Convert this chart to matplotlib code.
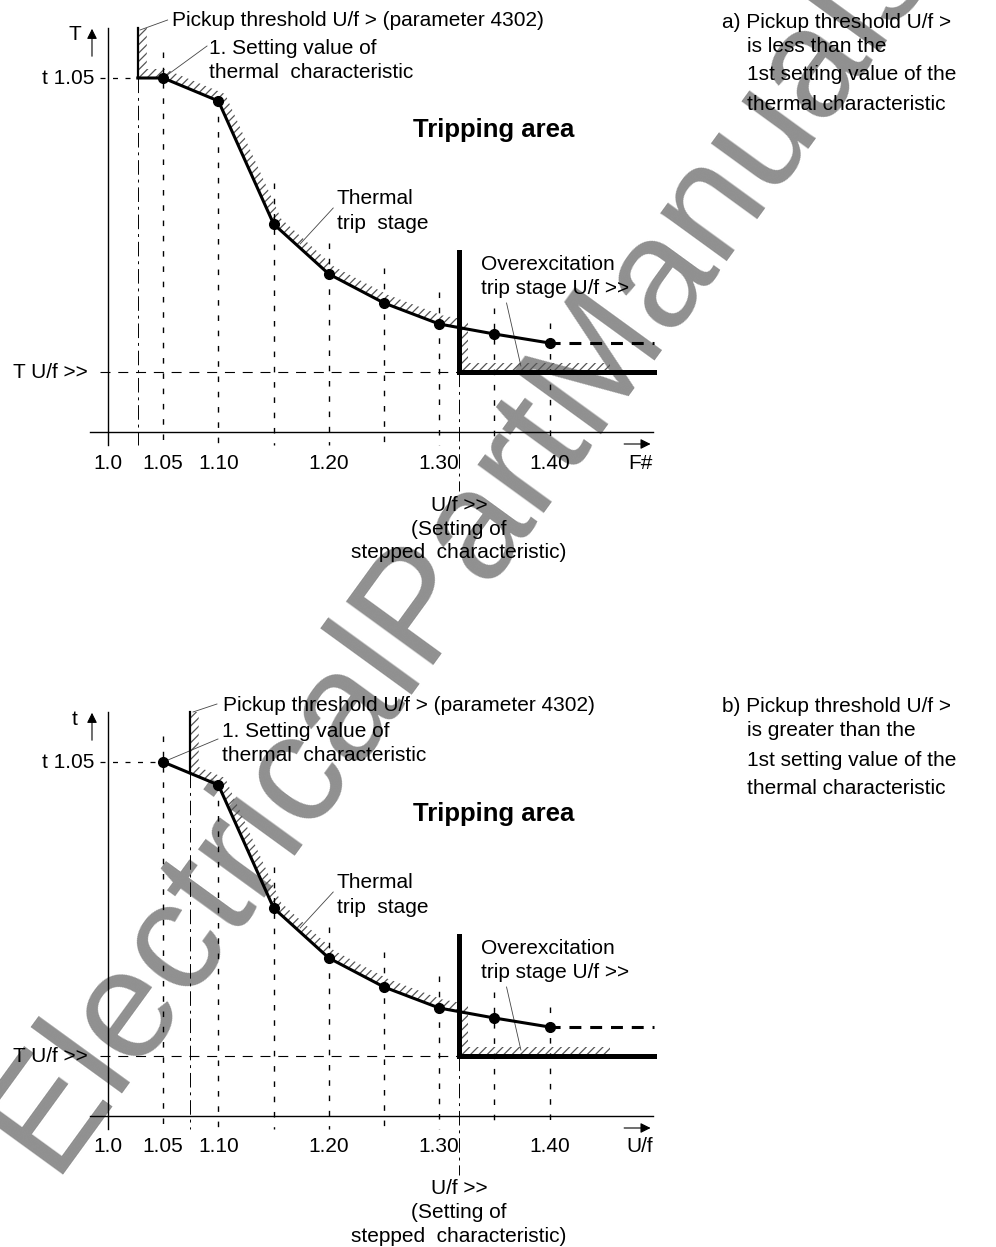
import numpy as np
import matplotlib
matplotlib.use('Agg')
import matplotlib.pyplot as plt
from matplotlib.patches import Polygon

plt.rcParams['font.family'] = ['Liberation Sans', 'DejaVu Sans']
plt.rcParams['hatch.linewidth'] = 0.9

# точки теплової характеристики (F#, час)
f_set = [1.05, 1.10, 1.15, 1.20, 1.25, 1.30, 1.35, 1.40]
t_set = [35.4, 33.1, 20.8, 15.8, 12.9, 10.8, 9.8, 8.9]
guide_top = [38.0, 33.1, 24.9, 18.9, 16.4, 14.0, 12.4, 10.9]

tick_vals = [1.0, 1.05, 1.10, 1.20, 1.30, 1.40]
tick_labels = ['1.0', '1.05', '1.10', '1.20', '1.30', '1.40']

# уставки
pickup_a = 1.027
pickup_b = 1.074
pickup_top = 40.4
uf_step = 1.318
t_step = 6.0
step_top = 18.0
f_end = 1.495
hatch_end = 1.455

lines_a = ['a) Pickup threshold U/f >', 'is less than the',
           '1st setting value of the', 'thermal characteristic']
lines_b = ['b) Pickup threshold U/f >', 'is greater than the',
           '1st setting value of the', 'thermal characteristic']

FS = 15


def hatch_band(ax, xs, ys, width=9):
    pts = ax.transData.transform(np.column_stack([xs, ys]))
    d = np.diff(pts, axis=0)
    d = d / np.hypot(d[:, 0], d[:, 1])[:, None]
    n = np.column_stack([-d[:, 1], d[:, 0]])
    offs = []
    for i in range(len(pts)):
        if i == 0:
            m, k = n[0], 1.0
        elif i == len(pts) - 1:
            m, k = n[-1], 1.0
        else:
            m = n[i - 1] + n[i]
            m = m / np.hypot(*m)
            k = 1.0 / np.dot(m, n[i])
        offs.append(pts[i] + m * width * k)
    poly = np.vstack([pts, np.array(offs)[::-1]])
    poly = ax.transData.inverted().transform(poly)
    ax.add_patch(Polygon(poly, closed=True, fill=False, hatch='////',
                         edgecolor='#555555', lw=0, zorder=1))


def draw_panel(ax, pickup, ylab, xlab, side, txt_y):
    # осі
    ax.plot([1.0, 1.0], [-1.3, 40.4], color='k', lw=1.0)
    ax.plot([0.984, 1.494], [0, 0], color='k', lw=1.0)
    ax.annotate('', xy=(0.9855, 40.6), xytext=(0.9855, 37.3),
                arrowprops=dict(arrowstyle='-|>', color='k', lw=0.8, mutation_scale=15))
    ax.annotate('', xy=(1.494, -1.2), xytext=(1.465, -1.2),
                arrowprops=dict(arrowstyle='-|>', color='k', lw=0.8, mutation_scale=15))
    ax.text(0.970, 39.7, ylab, fontsize=FS, ha='center', va='center')
    ax.text(1.482, -3.1, xlab, fontsize=FS, ha='center', va='center')
    for v, lab in zip(tick_vals, tick_labels):
        ax.text(v, -3.1, lab, fontsize=FS, ha='center', va='center')

    # допоміжні вертикалі
    for f, top in zip(f_set, guide_top):
        ax.plot([f, f], [top, -1.3], color='k', lw=1.0, ls=(0, (4, 7)))

    t_pick = float(np.interp(pickup, f_set, t_set))
    t_cross = float(np.interp(uf_step, f_set, t_set))

    # горизонталі t 1.05 та T U/f >>
    x_end = pickup if pickup < f_set[0] else f_set[0]
    ax.plot([0.993, x_end], [t_set[0], t_set[0]], color='k', lw=0.9, ls=(0, (4, 6)))
    ax.text(0.988, t_set[0], 't 1.05', fontsize=FS, ha='right', va='center')
    ax.plot([0.993, uf_step], [t_step, t_step], color='k', lw=0.8, ls=(0, (9, 7)))
    ax.text(0.982, t_step, 'T U/f >>', fontsize=FS, ha='right', va='center')

    # штрих-пунктир під уставками
    ax.plot([pickup, pickup], [t_pick, -1.3], color='k', lw=0.7, ls=(0, (15, 5, 3, 5)))
    ax.plot([uf_step, uf_step], [t_step, -5.9], color='k', lw=0.7, ls=(0, (15, 5, 3, 5)))

    # штриховка області спрацювання
    hx = [pickup, pickup] + [f for f in f_set if pickup < f < uf_step] + [uf_step]
    hy = [pickup_top, t_pick] + [t for f, t in zip(f_set, t_set) if pickup < f < uf_step] + [t_cross]
    hatch_band(ax, hx, hy)
    hatch_band(ax, [uf_step, uf_step, hatch_end], [t_cross + 0.6, t_step, t_step])

    # характеристики
    ax.plot([pickup, pickup], [pickup_top, t_pick], color='k', lw=1.6, zorder=3)
    if pickup < f_set[0]:
        cx, cy = [pickup] + f_set, [t_set[0]] + t_set
    else:
        cx, cy = f_set, t_set
    ax.plot(cx, cy, color='k', lw=2.2, zorder=3)
    ax.plot(f_set, t_set, 'o', color='k', ms=7, zorder=4)
    ax.plot([f_set[-1], f_end], [t_set[-1], t_set[-1]], color='k', lw=2.2,
            ls=(0.6, (3.9, 2.9)), zorder=3)
    ax.plot([uf_step, uf_step, f_end], [step_top, t_step, t_step], color='k', lw=3.6,
            solid_joinstyle='miter', zorder=3)

    # підписи та виноски
    lc = '#444444'
    if pickup < f_set[0]:
        ax.plot([1.029, 1.054], [40.2, 41.2], color=lc, lw=0.6)
        ax.text(1.058, 41.2, 'Pickup threshold U/f > (parameter 4302)', fontsize=FS, va='center')
        ax.plot([1.05, 1.0897], [35.4, 38.6], color=lc, lw=0.6)
        ax.text(1.0915, 38.4, '1. Setting value of', fontsize=FS, va='center')
        ax.text(1.0915, 36.0, 'thermal  characteristic', fontsize=FS, va='center')
    else:
        ax.plot([1.077, 1.0987], [40.4, 41.2], color=lc, lw=0.6)
        ax.text(1.104, 41.1, 'Pickup threshold U/f > (parameter 4302)', fontsize=FS, va='center')
        ax.plot([1.05, 1.0996], [35.4, 37.7], color=lc, lw=0.6)
        ax.text(1.103, 38.5, '1. Setting value of', fontsize=FS, va='center')
        ax.text(1.103, 36.1, 'thermal  characteristic', fontsize=FS, va='center')

    ax.text(1.3496, 30.2, 'Tripping area', fontsize=18.5, fontweight='bold', ha='center', va='center')
    ax.plot([1.174, 1.204], [18.8, 22.4], color=lc, lw=0.6)
    ax.text(1.2074, 23.3, 'Thermal', fontsize=FS, va='center')
    ax.text(1.2074, 20.9, 'trip  stage', fontsize=FS, va='center')
    ax.plot([1.361, 1.374], [12.9, 6.6], color=lc, lw=0.6)
    ax.text(1.338, 16.8, 'Overexcitation', fontsize=FS, va='center')
    ax.text(1.338, 14.4, 'trip stage U/f >>', fontsize=FS, va='center')

    for y, s in zip([-7.3, -9.7, -12.0], ['U/f >>', '(Setting of', 'stepped  characteristic)']):
        ax.text(uf_step, y, s, fontsize=FS, ha='center', va='center')

    for i, (y, s) in enumerate(zip(txt_y, side)):
        ax.text(1.556 if i == 0 else 1.579, y, s, fontsize=FS, va='center')


W, H = 996, 1247
fig = plt.figure(figsize=(W / 100, H / 100), dpi=100)

# px -> дані: F = 1 + (px - 108) / 1104, T = (y0 - py) / 10
x_lim = (1 - 108 / 1104, 1 + (W - 108) / 1104)
ax_a = fig.add_axes([0, 1 - 620 / H, 1, 620 / H])
ax_a.set_xlim(*x_lim)
ax_a.set_ylim((432 - 620) / 10, 432 / 10)
ax_b = fig.add_axes([0, 0, 1, (H - 620) / H])
ax_b.set_xlim(*x_lim)
ax_b.set_ylim((1116 - H) / 10, (1116 - 620) / 10)
for ax in (ax_a, ax_b):
    ax.axis('off')

draw_panel(ax_a, pickup_a, 'T', 'F#', lines_a, [41.0, 38.6, 35.7, 32.8])
draw_panel(ax_b, pickup_b, 't', 'U/f', lines_b, [41.0, 38.6, 35.6, 32.8])

# водяний знак
fig.text(0.462, 0.565, 'ElectricalPartManuals', rotation=54, fontsize=112,
         color='#909090', ha='center', va='center', rotation_mode='anchor', zorder=-1)

fig.savefig('out.png', dpi=100)
